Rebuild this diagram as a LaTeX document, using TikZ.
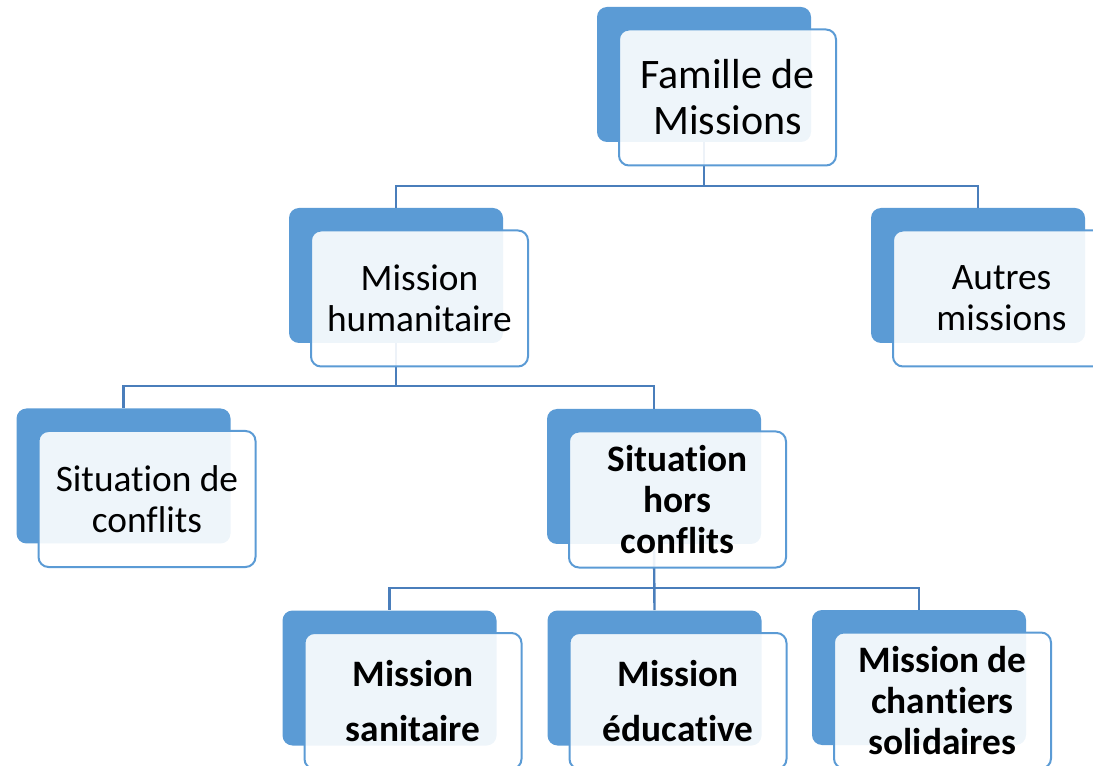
\documentclass[tikz,border=0pt]{standalone}
\usepackage{fontspec}
\setmainfont[Ligatures=NoCommon]{Carlito}
\definecolor{boxblue}{HTML}{5B9BD5}
\definecolor{lineblue}{HTML}{4A7EBB}
\begin{document}
\begin{tikzpicture}[x=0.75pt, y=-0.75pt,
  back/.style={fill=boxblue, rounded corners=7.5pt, minimum width=160.5pt, minimum height=101.25pt, inner sep=0pt},
  front/.style={draw=boxblue, line width=1.5pt, fill=white, fill opacity=0.9, text opacity=1, rounded corners=7.5pt,
    minimum width=162.75pt, minimum height=102pt, inner sep=0pt, align=center, font=\fontsize{28}{30.75}\selectfont},
  conn/.style={draw=lineblue, line width=1.8pt}]

\useasboundingbox (0,0) rectangle (1093,766);
\clip (0,0) rectangle (1093,766);

% back boxes
\node[back] (famB) at (704,74.5) {};
\node[back] (humB) at (396,275.5) {};
\node[back] (autB) at (978,275.5) {};
\node[back] (confB) at (123.5,476) {};
\node[back] (horsB) at (654,476.5) {};
\node[back] (sanB) at (389.5,678) {};
\node[back] (eduB) at (654.5,678) {};
\node[back] (chaB) at (919,677.5) {};

% buses
\coordinate (bus1) at (0,186);
\coordinate (bus2) at (0,386);
\coordinate (bus3) at (0,588);

\begin{scope}[conn]
\draw (famB.south) -- (famB.south |- bus1) -| (humB.north); %fam-hum
\draw (famB.south |- bus1) -| (autB.north); %fam-aut
\draw (humB.south) -- (humB.south |- bus2) -| (confB.north); %hum-conf
\draw (humB.south |- bus2) -| (horsB.north); %hum-hors
\draw (horsB.south) -- (eduB.north); %hors-edu
\draw (horsB.south |- bus3) -| (sanB.north); %hors-san
\draw (horsB.south |- bus3) -| (chaB.north); %hors-cha
\end{scope}

% front boxes
\node[front, font=\fontsize{31.5}{34.5}\selectfont] (fam) at (727.5,97.5) {Famille de\\Missions};
\node[front] (hum) at (419.5,298.5) {Mission\\humanitaire};
\node[front] (aut) at (1001.5,298.5) {Autres\\missions};
\node[front] (conf) at (147,499) {Situation de\\conflits};
\node[front] (hors) at (677.5,499.5) {\bfseries Situation\\\bfseries hors\\\bfseries conflits};
\node[front] (san) at (413,701) {\bfseries Mission\\[11pt]\bfseries sanitaire};
\node[front] (edu) at (678,701) {\bfseries Mission\\[11pt]\bfseries éducative};
\node[front] (cha) at (942.5,700.5) {\bfseries Mission de\\\bfseries chantiers\\\bfseries solidaires};

\end{tikzpicture}
\end{document}
